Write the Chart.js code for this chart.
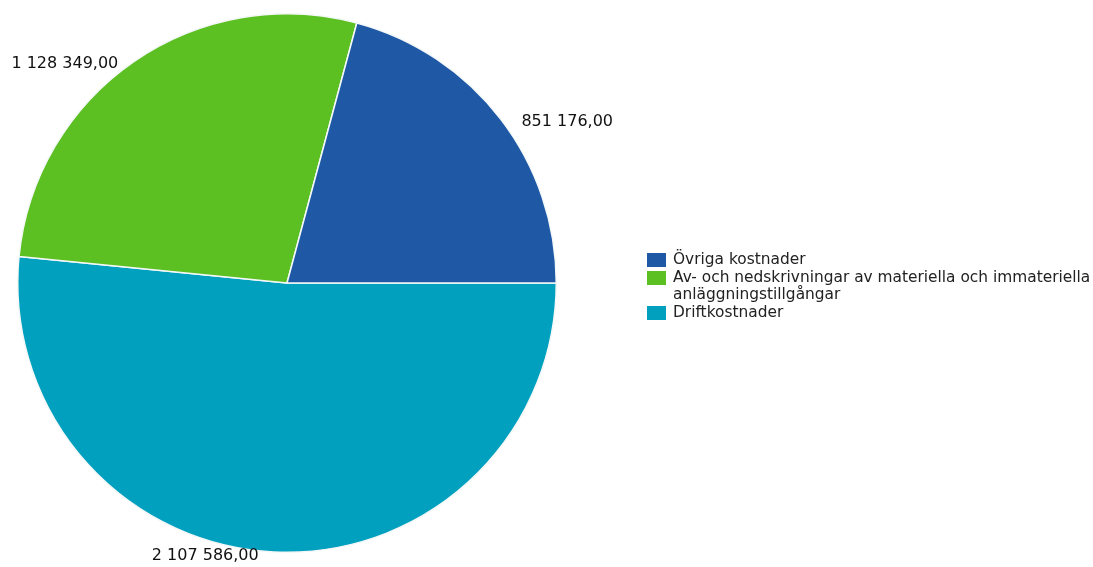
<!DOCTYPE html>
<html>
<head>
<meta charset="utf-8">
<script src="https://cdn.jsdelivr.net/npm/chart.js@4.4.0/dist/chart.umd.min.js"></script>
<style>
    html, body { margin: 0; padding: 0; background: #fff; }
    #wrap { position: relative; width: 1093px; height: 567px; }
    #legend {
        position: absolute; left: 647px; top: 251px;
        font-family: "DejaVu Sans", Verdana, sans-serif; font-size: 15.4px; color: #222;
        line-height: 17.5px;
    }
    .item { display: flex; align-items: flex-start; }
    .box { width: 19px; height: 14px; margin-right: 7px; margin-top: 2px; flex: none; }
</style>
</head>
<body>
<div id="wrap">
    <canvas id="pieChart" width="1093" height="567"></canvas>
    <div id="legend"></div>
</div>
<script>
const categories = ['Övriga kostnader', 'Av- och nedskrivningar av materiella och immateriella\nanläggningstillgångar', 'Driftkostnader'];
const values = [851176, 1128349, 2107586];
const valueLabels = ['851 176,00', '1 128 349,00', '2 107 586,00'];
const colors = ['#1f59a6', '#5cbf22', '#00a0be'];

// Reference runs counter-clockwise from 3 o'clock, Chart.js runs clockwise: reverse the order
const order = [2, 1, 0];

// Legend
document.getElementById('legend').innerHTML = categories.map((c, i) => `
    <div class="item"><div class="box" style="background:${colors[i]}"></div><div>${c.replace('\n', '<br>')}</div></div>
`).join('');

// Value labels outside the slices
const outsideLabels = {
    id: 'outsideLabels',
    afterDatasetsDraw(chart) {
        const ctx = chart.ctx;
        const meta = chart.getDatasetMeta(0);
        ctx.save();
        ctx.font = '16px "DejaVu Sans", Verdana, sans-serif';
        ctx.fillStyle = '#111';
        ctx.textBaseline = 'middle';
        meta.data.forEach((arc, i) => {
            const p = arc.getProps(['x', 'y', 'startAngle', 'endAngle', 'outerRadius'], true);
            const mid = (p.startAngle + p.endAngle) / 2;
            const r = p.outerRadius + 1;
            const px = p.x + Math.cos(mid) * r;
            const py = p.y + Math.sin(mid) * r + 3;
            const right = Math.cos(mid) >= 0;
            ctx.textAlign = right ? 'left' : 'right';
            ctx.fillText(valueLabels[order[i]], right ? px + 20 : px - 15, py);
        });
        ctx.restore();
    }
};

const ctx = document.getElementById('pieChart').getContext('2d');
new Chart(ctx, {
    type: 'pie',
    data: {
        labels: order.map(i => categories[i]),
        datasets: [{
            data: order.map(i => values[i]),
            backgroundColor: order.map(i => colors[i]),
            borderColor: '#f4f8f8',
            borderWidth: 1.5
        }]
    },
    options: {
        responsive: false,
        animation: false,
        rotation: 90,
        layout: { padding: { left: 17, top: 13, right: 536, bottom: 14 } },
        plugins: {
            legend: { display: false },
            tooltip: { enabled: false }
        }
    },
    plugins: [outsideLabels]
});
</script>
</body>
</html>
